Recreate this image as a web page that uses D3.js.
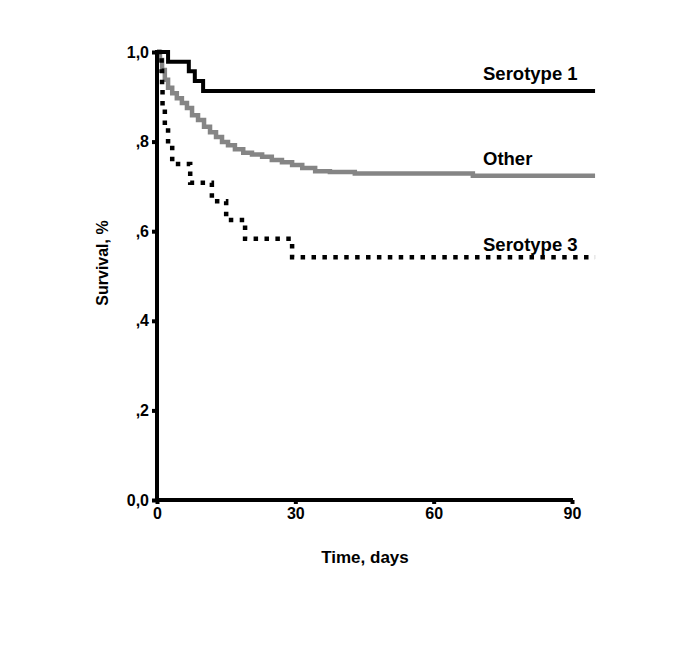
<!DOCTYPE html>
<html>
<head>
<meta charset="utf-8">
<script src="https://cdn.jsdelivr.net/npm/d3@7/dist/d3.min.js"></script>
<style>
  html, body { margin: 0; padding: 0; background: #fff; }
  svg { display: block; }
  text { font-family: "Liberation Sans", Arial, Helvetica, sans-serif; font-weight: bold; fill: #000; }
</style>
</head>
<body>
<svg id="chart" width="685" height="654"></svg>
<script>
// ---- Data ----
const xTickValues = [0, 30, 60, 90];
const xTickLabels = ["0", "30", "60", "90"];
const yTickValues = [0, 0.2, 0.4, 0.6, 0.8, 1.0];
const yTickLabels = ["0,0", ",2", ",4", ",6", ",8", "1,0"];
const followUpEnd = 95;

const seriesNames = ["Serotype 1", "Other", "Serotype 3"];

const sero1Times = [0, 2.4, 6.9, 8.2, 10.0];
const sero1Surv  = [1.0, 0.978, 0.957, 0.935, 0.913];

const otherTimes = [0, 0.65, 1.1, 1.7, 2.4, 3.3, 4.3, 5.4, 6.5, 7.6, 8.9, 10.2, 11.5, 12.8, 14.1, 15.4, 16.9, 18.7, 20.6, 22.8, 24.9, 27.1, 29.3, 31.5, 34.3, 37.5, 42.9, 68.5];
const otherSurv  = [1.0, 0.982, 0.960, 0.938, 0.920, 0.908, 0.897, 0.886, 0.875, 0.859, 0.848, 0.833, 0.821, 0.810, 0.799, 0.792, 0.783, 0.775, 0.771, 0.766, 0.759, 0.754, 0.748, 0.741, 0.734, 0.732, 0.729, 0.724];

const sero3Times = [0, 1.0, 1.1, 1.2, 1.7, 2.4, 3.3, 7.2, 11.9, 15.0, 19.1, 29.3];
const sero3Surv  = [1.0, 0.958, 0.917, 0.875, 0.833, 0.792, 0.750, 0.708, 0.667, 0.625, 0.583, 0.542];

// ---- Chart ----
const svg = d3.select("#chart");
const x = d3.scaleLinear().domain([0, 90]).range([157, 572]);
const y = d3.scaleLinear().domain([0, 1]).range([500, 52]);

function toPoints(times, surv) {
  const pts = times.map((t, i) => ({ t, s: surv[i] }));
  pts.push({ t: followUpEnd, s: surv[surv.length - 1] });
  return pts;
}

const line = d3.line()
  .x(d => x(d.t))
  .y(d => y(d.s))
  .curve(d3.curveStepAfter);

const series = [
  { name: seriesNames[0], pts: toPoints(sero1Times, sero1Surv), color: "#000", width: 4, dash: null },
  { name: seriesNames[1], pts: toPoints(otherTimes, otherSurv), color: "#858585", width: 4.5, dash: null },
  { name: seriesNames[2], pts: toPoints(sero3Times, sero3Surv), color: "#000", width: 4.5, dash: "4.5,6.4" }
];

[series[1], series[0], series[2]].forEach(s => {
  svg.append("path")
    .datum(s.pts)
    .attr("d", line)
    .attr("fill", "none")
    .attr("stroke", s.color)
    .attr("stroke-width", s.width)
    .attr("stroke-dasharray", s.dash)
    .attr("stroke-linejoin", "miter")
    .attr("stroke-linecap", "butt");
});

// Axes
const yAxis = d3.axisLeft(y)
  .tickValues(yTickValues)
  .tickFormat((d, i) => yTickLabels[i])
  .tickSize(5)
  .tickSizeOuter(0)
  .tickPadding(3);

const gy = svg.append("g").attr("transform", "translate(157,0)").call(yAxis);
gy.select(".domain").attr("stroke", "#000").attr("stroke-width", 4).attr("d", "M0," + (y(1) - 2) + "V" + (y(0) + 2));
gy.selectAll(".tick line").attr("stroke", "#000").attr("stroke-width", 4);
gy.selectAll(".tick text")
  .style("font-size", "16px")
  .style("font-family", "'Liberation Sans', Arial, sans-serif")
  .style("font-weight", "bold")
  .attr("fill", "#000");

const xAxis = d3.axisBottom(x)
  .tickValues(xTickValues)
  .tickFormat((d, i) => xTickLabels[i])
  .tickSize(4)
  .tickSizeOuter(0)
  .tickPadding(4);

const gx = svg.append("g").attr("transform", "translate(0,500)").call(xAxis);
gx.select(".domain").attr("stroke", "#000").attr("stroke-width", 4).attr("d", "M" + (x(0) - 2) + ",0H" + (x(90) + 1));
gx.selectAll(".tick line").attr("stroke", "#000").attr("stroke-width", 4);
gx.selectAll(".tick text")
  .style("font-size", "16px")
  .style("font-family", "'Liberation Sans', Arial, sans-serif")
  .style("font-weight", "bold")
  .attr("fill", "#000");

// Axis titles
svg.append("text")
  .attr("x", 365).attr("y", 563)
  .attr("text-anchor", "middle")
  .style("font-size", "17px")
  .text("Time, days");

svg.append("text")
  .attr("transform", "translate(108,263) rotate(-90)")
  .attr("text-anchor", "middle")
  .style("font-size", "16px")
  .text("Survival, %");

// Series labels
const labelBaselines = [80, 165, 251];
seriesNames.forEach((n, i) => {
  svg.append("text")
    .attr("x", 483).attr("y", labelBaselines[i])
    .style("font-size", "18.5px")
    .text(n);
});
</script>
</body>
</html>
